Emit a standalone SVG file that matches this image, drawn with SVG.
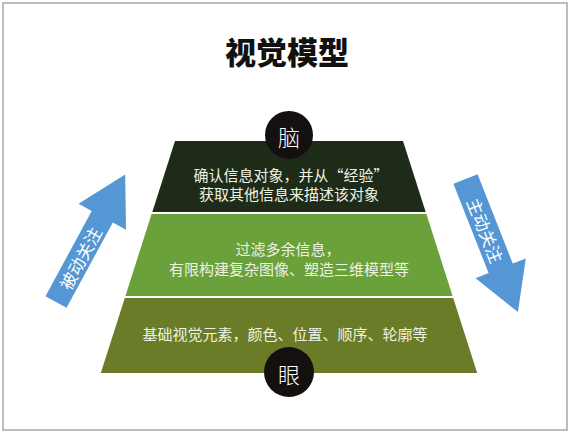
<svg xmlns="http://www.w3.org/2000/svg" width="572" height="433" viewBox="0 0 572 433">
<style>
.t{font-family:"Noto Sans CJK SC","Noto Sans",sans-serif;font-size:15px;fill:#eef2e2;text-anchor:middle;dominant-baseline:central}
.c{font-family:"Noto Sans CJK SC","Noto Sans",sans-serif;font-size:22px;fill:#ffffff;text-anchor:middle;dominant-baseline:central;font-weight:300}
.a{fill:#5596d5}
.at{font-family:"Noto Sans CJK SC","Noto Sans",sans-serif;font-size:17px;fill:#ffffff;text-anchor:middle;dominant-baseline:central}
</style>
<rect x="0" y="0" width="572" height="433" fill="#ffffff"/>
<rect x="3" y="3" width="564" height="427" fill="#ffffff" stroke="#a8a8a8" stroke-width="1.5"/>
<text x="287" y="50" style="font-family:'Noto Sans CJK SC','Noto Sans',sans-serif;font-size:31px;font-weight:900;fill:#111111;text-anchor:middle;dominant-baseline:central">视觉模型</text>
<g id="tier-top">
<polygon points="175,141 403,141 425.7,212 152.3,212" fill="#1e2b18"/>
<text class="t" x="291" y="174">确认信息对象，并从“经验”</text>
<text class="t" x="289" y="193">获取其他信息来描述该对象</text>
</g>
<g id="tier-middle">
<polygon points="151.6,214 426.4,214 452.6,296 125.4,296" fill="#6aa13a"/>
<text class="t" x="288" y="248">过滤多余信息，</text>
<text class="t" x="289" y="268">有限构建复杂图像、塑造三维模型等</text>
</g>
<g id="tier-bottom">
<polygon points="124.8,298 453.2,298 477.2,373 100.8,373" fill="#6b7c28"/>
<text class="t" x="285" y="333">基础视觉元素，颜色、位置、顺序、轮廓等</text>
</g>
<g id="node-brain">
<circle cx="289" cy="135" r="24" fill="#141010"/>
<text class="c" x="289" y="136">脑</text>
</g>
<g id="node-eye">
<circle cx="289" cy="372" r="25" fill="#141010"/>
<text class="c" x="289" y="373">眼</text>
</g>
<g id="connectors">
<g id="arrow-passive" transform="translate(56,302) rotate(-61.5)">
<polygon class="a" points="0,-12 97,-12 97,-27 145,0 97,27 97,12 0,12"/>
<text class="at" x="50" y="0">被动关注</text>
</g>
<g id="arrow-active" transform="translate(465.5,179) rotate(68.5)">
<polygon class="a" points="0,-13 96,-13 96,-27 143,0 96,27 96,13 0,13"/>
<text class="at" x="55" y="0">主动关注</text>
</g>
</g>
</svg>
